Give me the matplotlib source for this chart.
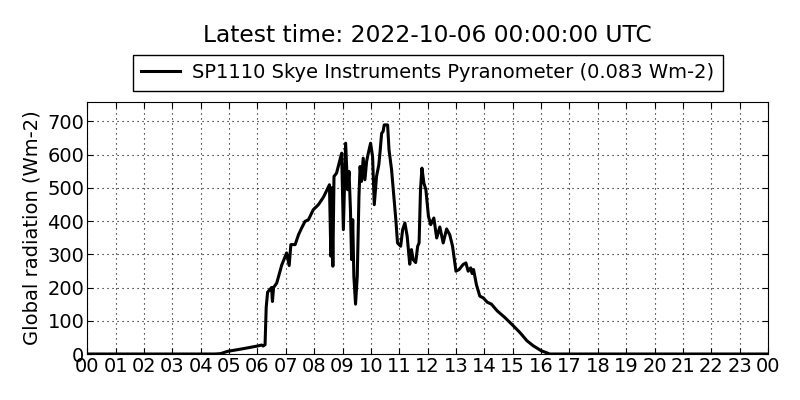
import matplotlib
matplotlib.use("Agg")
import matplotlib.pyplot as plt

# hours since midnight and global radiation (Wm-2)
hours = [0.0, 4.5, 4.7, 4.95, 5.5, 6.0, 6.15, 6.2, 6.27, 6.31, 6.36, 6.45, 6.5, 6.53,
         6.57, 6.68, 6.86, 7.03, 7.12, 7.18, 7.33, 7.45, 7.56, 7.68, 7.8, 7.97, 8.15,
         8.33, 8.54, 8.59, 8.62, 8.66, 8.7, 8.79, 8.97, 9.03, 9.11, 9.18, 9.23, 9.28,
         9.32, 9.36, 9.40, 9.46, 9.52, 9.58, 9.62, 9.67, 9.73, 9.79, 9.85, 9.91, 9.99,
         10.06, 10.12, 10.2, 10.28, 10.32, 10.38, 10.43, 10.47, 10.59, 10.64, 10.73,
         10.81, 10.88, 10.94, 11.05, 11.12, 11.2, 11.28, 11.37, 11.43, 11.49, 11.58,
         11.65, 11.7, 11.75, 11.8, 11.87, 11.94, 12.03, 12.11, 12.22, 12.32, 12.43,
         12.55, 12.67, 12.78, 12.88, 13.0, 13.11, 13.25, 13.35, 13.43, 13.52, 13.57,
         13.62, 13.72, 13.84, 13.96, 14.1, 14.25, 14.45, 14.72, 14.96, 15.25, 15.5,
         15.72, 16.0, 16.19, 16.3, 24.0]
radiation = [0, 0, 1, 8, 16, 24, 27, 24, 28, 140, 186, 195, 200, 158,
             200, 213, 268, 304, 266, 329, 329, 359, 379, 399, 404, 434, 449,
             472, 509, 294, 500, 264, 534, 544, 604, 374, 634, 494, 549, 434,
             284, 404, 234, 150, 234, 474, 564, 519, 589, 524, 579, 604, 634,
             594, 449, 534, 569, 604, 664, 669, 689, 689, 614, 554,
             474, 404, 334, 324, 374, 394, 354, 270, 314, 284, 275,
             324, 334, 494, 559, 514, 494, 414, 389, 409, 349, 382,
             334, 376, 359, 324, 249, 254, 269, 274, 249, 259, 242,
             254, 209, 174, 169, 156, 150, 130, 110, 90, 65, 40,
             25, 10, 4, 0, 0]

hour_ticks = list(range(25))
hour_labels = ["%02d" % (h % 24) for h in hour_ticks]

title = "Latest time: 2022-10-06 00:00:00 UTC"
label = "SP1110 Skye Instruments Pyranometer (0.083 Wm-2)"

fig = plt.figure(figsize=(8, 4), dpi=100, facecolor="white")
ax = fig.add_axes([0.109, 0.115, 0.851, 0.630])

ax.plot(hours, radiation, color="black", linewidth=2.2, label=label)

ax.set_xlim(0, 24)
ax.set_ylim(0, max(radiation) * 1.1)
ax.set_xticks(hour_ticks)
ax.set_xticklabels(hour_labels)
ax.set_yticks(range(0, 701, 100))
ax.tick_params(direction="in", top=True, right=True, labelsize=14, length=4, pad=2)
ax.grid(True, linestyle=(0, (1, 3.5)), color="black", linewidth=0.8)
ax.set_ylabel("Global radiation (Wm-2)", fontsize=14, labelpad=4)

leg = ax.legend(loc="lower center", bbox_to_anchor=(0.5, 1.005), fontsize=14,
                fancybox=False, framealpha=1, edgecolor="black", handlelength=2.0,
                borderpad=0.45, handletextpad=0.6)
leg.get_frame().set_linewidth(1)

# title centred over the axes, not the figure
fig.text(0.5345, 0.912, title, fontsize=16.8, ha="center", va="center")

fig.savefig("out.png", dpi=100, facecolor="white")
